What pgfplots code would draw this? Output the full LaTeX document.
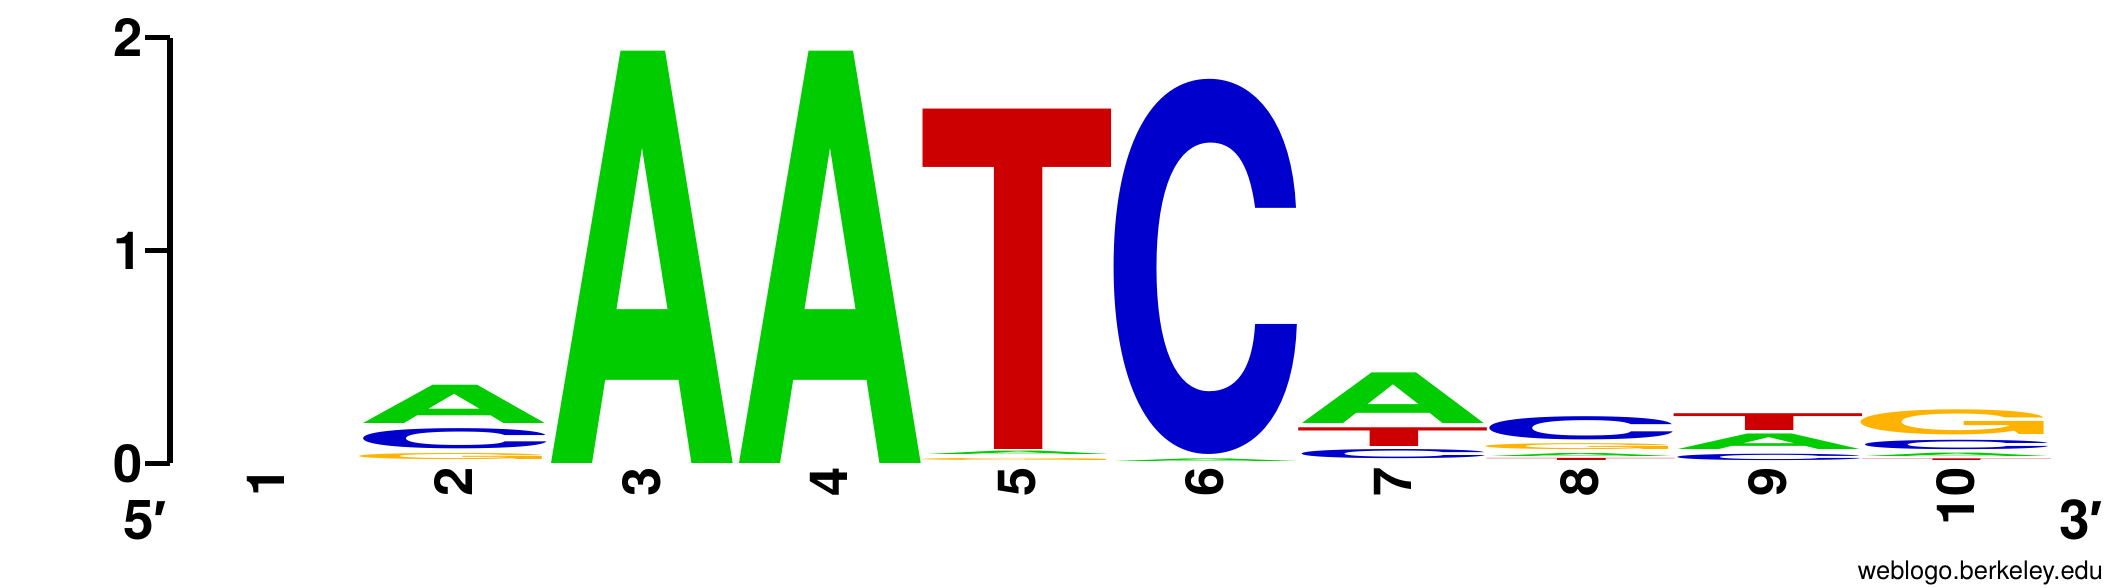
\documentclass[border=0pt]{standalone}
\usepackage{fontspec}
\setmainfont{TeX Gyre Heros}
\newfontfamily\primefont{Liberation Sans}
\usepackage{graphicx}
\usepackage{pgfplots}
\usepackage{pgfplotstable}
\pgfplotsset{compat=1.18}

\definecolor{ntA}{RGB}{0,204,0}
\definecolor{ntC}{RGB}{0,0,204}
\definecolor{ntG}{RGB}{255,179,0}
\definecolor{ntT}{RGB}{204,0,0}

\newlength\colw \setlength\colw{36.6pt}
\newlength\yu \setlength\yu{42.55pt}

% position, bottom of letter (bits), letter height (bits)
\pgfplotstableread{
x  y      h
2  0.189  0.180
3  0.000  1.938
4  0.000  1.938
5  0.037  0.016
6  0.004  0.012
7  0.189  0.238
8  0.029  0.014
9  0.064  0.073
10 0.027  0.016
}\letA
\pgfplotstableread{
x  y      h
2  0.067  0.095
6  0.043  1.762
7  0.021  0.043
8  0.111  0.109
9  0.013  0.030
10 0.067  0.044
}\letC
\pgfplotstableread{
x  y      h
2  0.016  0.029
5  0.006  0.010
8  0.064  0.028
10 0.134  0.118
}\letG
\pgfplotstableread{
x  y      h
5  0.068  1.600
7  0.079  0.088
8  0.006  0.010
9  0.154  0.079
10 0.004  0.008
}\letT

\newcommand\nt[3]{\resizebox*{#2\colw}{#3\yu}{\bfseries #1}}

\pgfplotsset{
  logo/.style n args={3}{draw=none, mark=none,
    point meta=explicit symbolic,
    nodes near coords={\nt{#1}{#2}{\pgfplotspointmeta}},
    nodes near coords align=vertical,
    every node near coord/.append style={anchor=south, inner sep=0pt, outer sep=0pt, text=#3}},
}

\begin{document}
\begin{tikzpicture}
\useasboundingbox (0,0) rectangle (425pt,117.6pt);
\begin{axis}[
  at={(34pt,24.9pt)}, anchor=south west,
  x=37.54pt, y=42.55pt,
  xmin=0.4875, xmax=10.5, ymin=0, ymax=2,
  enlargelimits=false, clip=false,
  axis y line*=left, axis x line*=bottom,
  x axis line style={draw=none},
  y axis line style={line width=1.1pt},
  xtick={1,...,10}, ytick={0,1,2},
  tick align=outside, major tick length=5pt,
  major x tick style={draw=none},
  ytick style={line width=1pt, black},
  /pgf/number format/assume math mode=true,
  tick label style={font=\fontsize{10.5}{12}\selectfont\bfseries},
  yticklabel style={inner sep=0.3pt},
  xticklabel shift={-5.5pt},
  xticklabel style={rotate=90, anchor=east, inner sep=1pt},
]
\addplot[logo={A}{1.059}{ntA}] table[x=x, y=y, meta=h] {\letA};
\addplot[logo={C}{1.128}{ntC}] table[x=x, y=y, meta=h] {\letC};
\addplot[logo={G}{1.163}{ntG}] table[x=x, y=y, meta=h] {\letG};
\addplot[logo={T}{1.078}{ntT}] table[x=x, y=y, meta=h] {\letT};
\end{axis}
\node[font=\fontsize{11}{13}\selectfont\bfseries] at (29pt,13.6pt) {5{\primefont ′}};
\node[font=\fontsize{11}{13}\selectfont\bfseries] at (416.2pt,13.6pt) {3{\primefont ′}};
\node[font=\fontsize{5.1}{6}\selectfont, anchor=base east, inner sep=0pt] at (420.8pt,1.7pt) {weblogo.berkeley.edu};
\end{tikzpicture}
\end{document}
